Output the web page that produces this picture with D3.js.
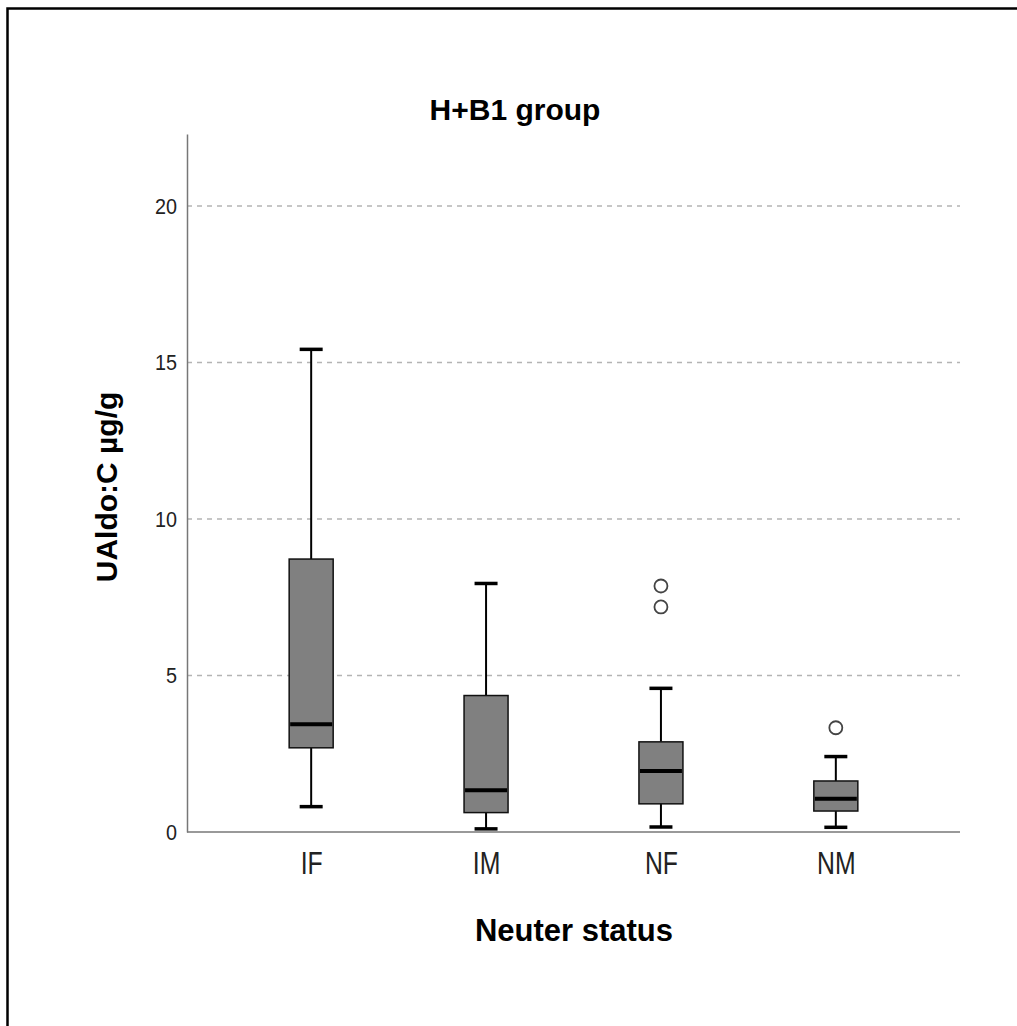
<!DOCTYPE html>
<html>
<head>
<meta charset="utf-8">
<script src="https://cdn.jsdelivr.net/npm/d3@7"></script>
<style>
body { margin: 0; background: #fff; }
text { font-family: "Liberation Sans", Arial, sans-serif; }
</style>
</head>
<body>
<div id="chart"></div>
<script>
// box plot values (UAldo:C ug/g)
var categories = ["IF", "IM", "NF", "NM"];
var whiskerLow = [0.81, 0.10, 0.16, 0.15];
var q1 = [2.69, 0.62, 0.90, 0.67];
var median = [3.44, 1.33, 1.95, 1.06];
var q3 = [8.72, 4.36, 2.88, 1.63];
var whiskerHigh = [15.42, 7.94, 4.59, 2.41];
var outliers = [[], [], [7.19, 7.86], [3.33]];
var yTicks = [0, 5, 10, 15, 20];

var W = 1017, H = 1026;
var plotL = 187, plotR = 960, plotT = 134, plotB = 832;

var svg = d3.select("#chart").append("svg")
    .attr("width", W)
    .attr("height", H);

svg.append("rect")
    .attr("x", 7.5).attr("y", 8.5)
    .attr("width", W + 20).attr("height", H + 20)
    .attr("fill", "#fff")
    .attr("stroke", "#000")
    .attr("stroke-width", 2.5);

var x = d3.scalePoint().domain(categories).range([plotL, plotR]).padding(0.71);
var y = d3.scaleLinear().domain([0, 22.3]).range([plotB, plotT]);

// grid
svg.selectAll(".grid")
    .data(yTicks.slice(1))
    .enter()
    .append("line")
    .attr("x1", plotL).attr("x2", plotR)
    .attr("y1", function(d){return y(d);})
    .attr("y2", function(d){return y(d);})
    .attr("stroke", "#b4b4b4")
    .attr("stroke-width", 1.5)
    .attr("stroke-dasharray", "5,5");

// axes
var yAxis = svg.append("g")
    .attr("transform", "translate(" + plotL + ",0)")
    .call(d3.axisLeft(y).tickValues(yTicks).tickSize(0).tickPadding(0));
yAxis.select(".domain").attr("stroke", "#777").attr("stroke-width", 1.5);
yAxis.selectAll("text")
    .attr("x", -11)
    .attr("font-size", 22)
    .attr("fill", "#222")
    .attr("transform", "scale(0.9,1)");

var xAxis = svg.append("g")
    .attr("transform", "translate(0," + plotB + ")")
    .call(d3.axisBottom(x).tickSize(0).tickPadding(0));
xAxis.select(".domain").attr("d", "M" + plotL + ",0H" + plotR).attr("stroke", "#777").attr("stroke-width", 1.5);
xAxis.selectAll("text")
    .attr("y", 42)
    .attr("dy", null)
    .attr("font-size", 31)
    .attr("fill", "#222")
    .attr("transform", "scale(0.8,1)");

// boxes
var idx = d3.range(categories.length);
var bw = 44, cw = 23;
var g = svg.selectAll(".box").data(idx).enter().append("g")
    .attr("transform", function(i){return "translate(" + x(categories[i]) + ",0)";});

g.append("line")
    .attr("x1", 0).attr("x2", 0)
    .attr("y1", function(i){return y(whiskerHigh[i]);})
    .attr("y2", function(i){return y(q3[i]);})
    .attr("stroke", "#000").attr("stroke-width", 2);
g.append("line")
    .attr("x1", 0).attr("x2", 0)
    .attr("y1", function(i){return y(q1[i]);})
    .attr("y2", function(i){return y(whiskerLow[i]);})
    .attr("stroke", "#000").attr("stroke-width", 2);
g.append("line")
    .attr("x1", -cw/2).attr("x2", cw/2)
    .attr("y1", function(i){return y(whiskerHigh[i]);})
    .attr("y2", function(i){return y(whiskerHigh[i]);})
    .attr("stroke", "#000").attr("stroke-width", 3.5);
g.append("line")
    .attr("x1", -cw/2).attr("x2", cw/2)
    .attr("y1", function(i){return y(whiskerLow[i]);})
    .attr("y2", function(i){return y(whiskerLow[i]);})
    .attr("stroke", "#000").attr("stroke-width", 3.5);
g.append("rect")
    .attr("x", -bw/2).attr("width", bw)
    .attr("y", function(i){return y(q3[i]);})
    .attr("height", function(i){return y(q1[i]) - y(q3[i]);})
    .attr("fill", "#808080")
    .attr("stroke", "#111").attr("stroke-width", 1.5);
g.append("line")
    .attr("x1", -bw/2 + 1).attr("x2", bw/2 - 1)
    .attr("y1", function(i){return y(median[i]);})
    .attr("y2", function(i){return y(median[i]);})
    .attr("stroke", "#000").attr("stroke-width", 4);
g.selectAll("circle")
    .data(function(i){return outliers[i];})
    .enter()
    .append("circle")
    .attr("cx", 0)
    .attr("cy", function(d){return y(d);})
    .attr("r", 6.5)
    .attr("fill", "#fff")
    .attr("stroke", "#444")
    .attr("stroke-width", 1.8);

// titles
svg.append("text")
    .attr("x", 515).attr("y", 120)
    .attr("text-anchor", "middle")
    .attr("font-size", 30).attr("font-weight", "bold")
    .text("H+B1 group");

svg.append("text")
    .attr("x", 574).attr("y", 941)
    .attr("text-anchor", "middle")
    .attr("font-size", 31).attr("font-weight", "bold")
    .text("Neuter status");

svg.append("text")
    .attr("transform", "translate(117,487) rotate(-90)")
    .attr("text-anchor", "middle")
    .attr("font-size", 30).attr("font-weight", "bold")
    .text("UAldo:C µg/g");
</script>
</body>
</html>
